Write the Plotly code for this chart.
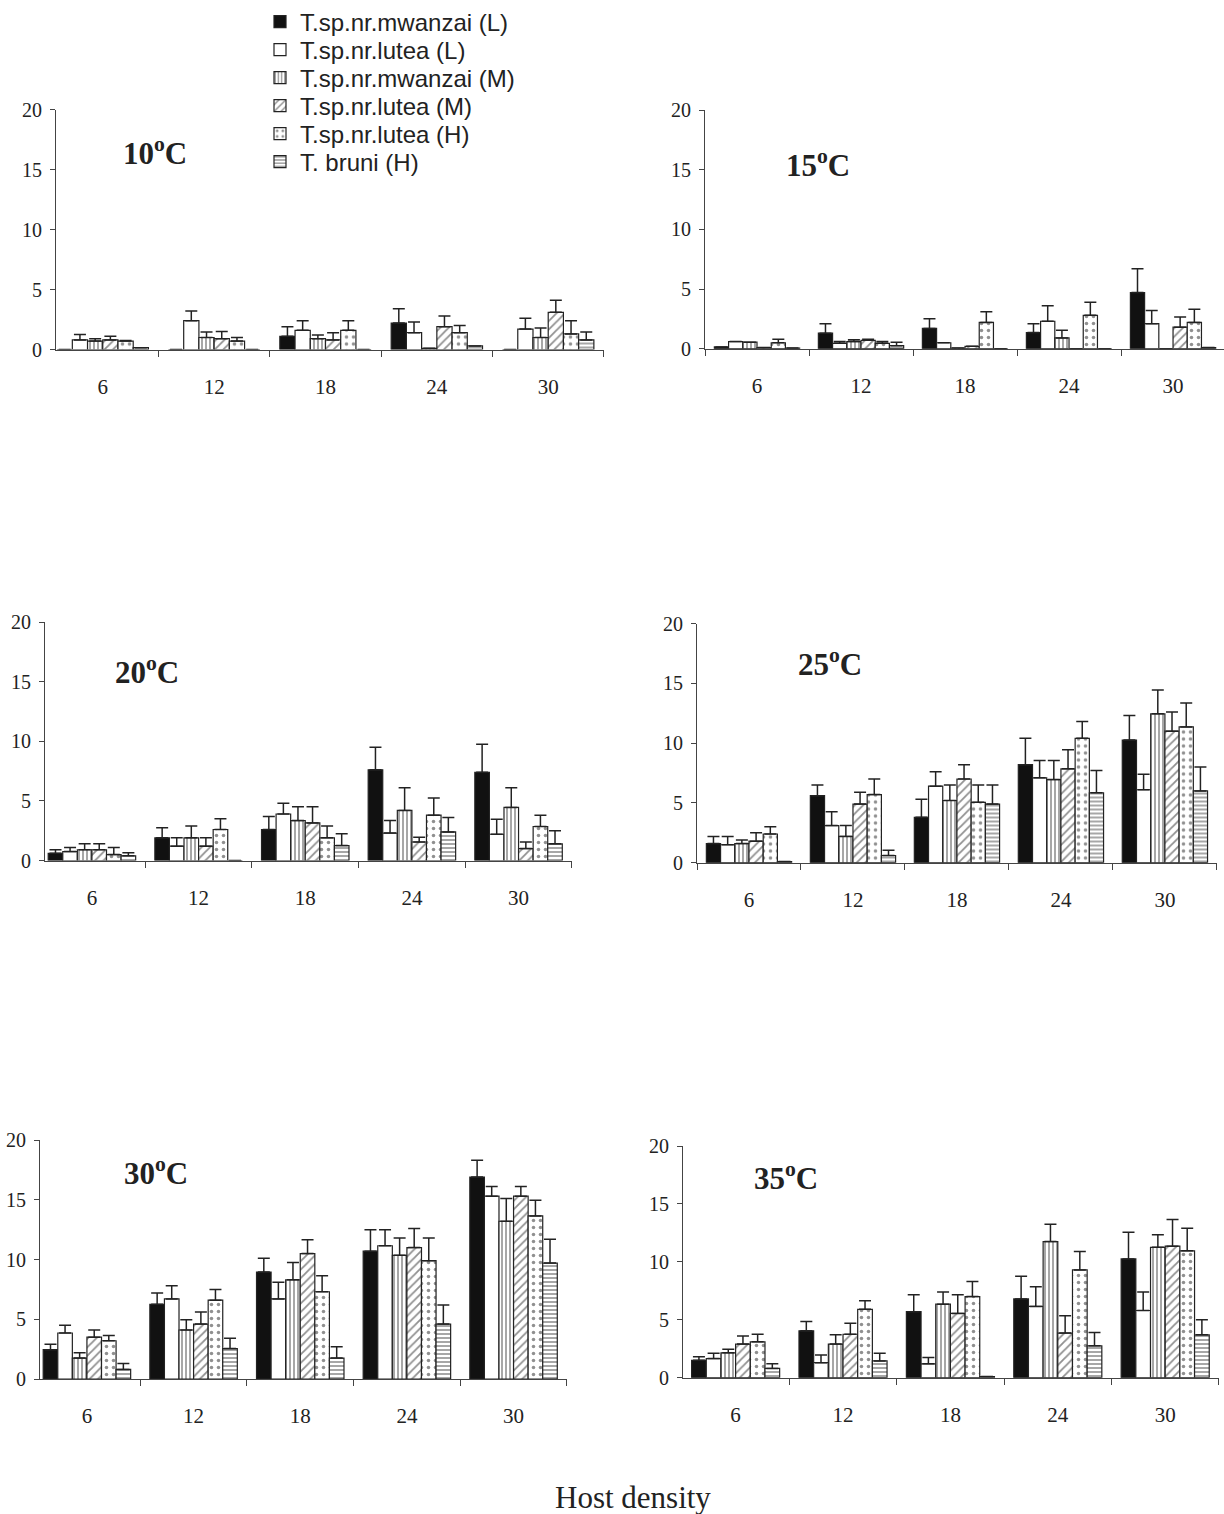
import plotly.graph_objects as go

W, H = 1224, 1514

densities = ["6", "12", "18", "24", "30"]
series_names = ["T.sp.nr.mwanzai (L)", "T.sp.nr.lutea (L)", "T.sp.nr.mwanzai (M)",
                "T.sp.nr.lutea (M)", "T.sp.nr.lutea (H)", "T. bruni (H)"]
temps = ["10", "15", "20", "25", "30", "35"]

# rows = series (same order as series_names), columns = densities
mean_10 = [[0, 0, 1.1, 2.2, 0],
           [0.8, 2.4, 1.6, 1.4, 1.7],
           [0.7, 1.0, 0.9, 0.1, 1.0],
           [0.8, 0.9, 0.8, 1.9, 3.1],
           [0.7, 0.7, 1.6, 1.4, 1.3],
           [0.15, 0.0, 0.0, 0.3, 0.8]]
err_10 = [[0, 0, 0.8, 1.2, 0],
          [0.45, 0.8, 0.8, 0.9, 0.9],
          [0.2, 0.45, 0.3, 0, 0.8],
          [0.3, 0.6, 0.6, 0.9, 1.0],
          [0.05, 0.3, 0.8, 0.6, 1.1],
          [0, 0, 0, 0, 0.65]]

mean_15 = [[0.15, 1.3, 1.7, 1.35, 4.7],
           [0.6, 0.45, 0.5, 2.3, 2.1],
           [0.55, 0.6, 0.05, 0.9, 0.0],
           [0.1, 0.7, 0.2, 0.0, 1.8],
           [0.5, 0.45, 2.2, 2.8, 2.2],
           [0.05, 0.25, 0.0, 0.0, 0.1]]
err_15 = [[0, 0.8, 0.8, 0.75, 2.0],
          [0, 0.15, 0, 1.3, 1.1],
          [0, 0.15, 0, 0.65, 0],
          [0, 0.1, 0, 0, 0.85],
          [0.3, 0.15, 0.9, 1.1, 1.1],
          [0, 0.3, 0, 0, 0]]

mean_20 = [[0.6, 1.9, 2.6, 7.6, 7.4],
           [0.75, 1.2, 3.9, 2.3, 2.2],
           [0.9, 1.9, 3.35, 4.2, 4.45],
           [0.9, 1.2, 3.15, 1.55, 1.0],
           [0.5, 2.6, 1.9, 3.8, 2.85],
           [0.4, 0.0, 1.25, 2.4, 1.4]]
err_20 = [[0.3, 0.85, 1.1, 1.9, 2.35],
          [0.35, 0.7, 0.9, 1.05, 1.25],
          [0.5, 1.0, 1.15, 1.9, 1.65],
          [0.5, 0.7, 1.35, 0.4, 0.55],
          [0.6, 0.9, 1.0, 1.45, 0.95],
          [0.25, 0, 1.0, 1.2, 1.1]]

mean_25 = [[1.6, 5.6, 3.8, 8.2, 10.25],
           [1.5, 3.1, 6.4, 7.1, 6.1],
           [1.6, 2.2, 5.2, 6.95, 12.45],
           [1.8, 4.9, 7.0, 7.85, 11.0],
           [2.4, 5.7, 5.05, 10.4, 11.35],
           [0.1, 0.6, 4.9, 5.85, 6.0]]
err_25 = [[0.6, 0.9, 1.5, 2.2, 2.05],
          [0.7, 1.15, 1.2, 1.45, 1.3],
          [0.3, 0.9, 1.3, 1.6, 2.0],
          [0.7, 1.0, 1.2, 1.6, 1.6],
          [0.6, 1.3, 1.45, 1.4, 2.0],
          [0, 0.45, 1.6, 1.85, 2.0]]

mean_30 = [[2.45, 6.25, 8.95, 10.7, 16.9],
           [3.85, 6.7, 6.7, 11.15, 15.3],
           [1.75, 4.1, 8.3, 10.35, 13.2],
           [3.5, 4.6, 10.5, 11.0, 15.3],
           [3.2, 6.6, 7.3, 9.9, 13.65],
           [0.8, 2.55, 1.75, 4.6, 9.7]]
err_30 = [[0.45, 0.95, 1.15, 1.8, 1.4],
          [0.65, 1.1, 1.4, 1.35, 0.8],
          [0.45, 0.85, 1.45, 1.45, 1.9],
          [0.6, 1.0, 1.15, 1.6, 0.8],
          [0.45, 0.9, 1.35, 1.9, 1.3],
          [0.5, 0.85, 0.95, 1.6, 2.0]]

mean_35 = [[1.5, 4.05, 5.7, 6.8, 10.25],
           [1.65, 1.3, 1.2, 6.15, 5.8],
           [2.15, 2.9, 6.35, 11.75, 11.25],
           [2.9, 3.75, 5.55, 3.85, 11.35],
           [3.1, 5.9, 7.0, 9.3, 10.95],
           [0.8, 1.45, 0.1, 2.75, 3.7]]
err_35 = [[0.3, 0.8, 1.45, 1.95, 2.3],
          [0.45, 0.65, 0.55, 1.7, 1.6],
          [0.3, 0.8, 1.05, 1.5, 1.1],
          [0.7, 0.95, 1.6, 1.5, 2.3],
          [0.65, 0.75, 1.3, 1.6, 1.95],
          [0.4, 0.65, 0, 1.15, 1.3]]

means = [mean_10, mean_15, mean_20, mean_25, mean_30, mean_35]
errs = [err_10, err_15, err_20, err_25, err_30, err_35]

# styling per series
fills = ["#111111", "white", "white", "white", "white", "white"]
patterns = [None,
            None,
            dict(shape="|", fgcolor="#222", bgcolor="white", size=4, solidity=0.4),
            dict(shape="/", fgcolor="#222", bgcolor="white", size=6, solidity=0.3),
            dict(shape=".", fgcolor="#222", bgcolor="white", size=7, solidity=0.2),
            dict(shape="-", fgcolor="#222", bgcolor="white", size=4, solidity=0.4)]


def ypaper(px):
    return 1 - px / H


# panel geometry in pixels: (x_left, x_right, y_zero, y_twenty, range_left, range_right)
geom = [(56, 604, 349.5, 109.5, -0.42, 4.501),
        (705, 1224, 348.7, 110, -0.5, 4.49),
        (45, 572, 860.5, 622, -0.44, 4.501),
        (697, 1217, 862.7, 623.5, -0.5, 4.501),
        (40, 567, 1379, 1140, -0.44, 4.501),
        (683, 1219, 1377.7, 1146, -0.49, 4.501)]
title_pos = [(155, 153), (818, 165), (147, 672), (830, 665), (156, 1173), (786, 1178)]

fig = go.Figure()
layout = {}
annotations = []
for p in range(6):
    ax = "" if p == 0 else str(p + 1)
    for s in range(6):
        marker = dict(color=fills[s], line=dict(color="#222", width=1.2))
        if patterns[s] is not None:
            marker["pattern"] = patterns[s]
        e = [v if v > 0 else None for v in errs[p][s]]
        fig.add_trace(go.Bar(
            x=densities, y=means[p][s], name=series_names[s],
            marker=marker, showlegend=(p == 0),
            legend="legend" if s == 0 else "legend" + str(s + 1),
            error_y=dict(type="data", array=e, symmetric=False,
                         arrayminus=[0] * 5, color="#222", thickness=1.5, width=6),
            xaxis="x" + ax, yaxis="y" + ax))
    xl, xr, y0, y20, r0, r1 = geom[p]
    layout["xaxis" + ax] = dict(
        domain=[xl / W, xr / W], anchor="y" + ax, type="category",
        categoryorder="array", categoryarray=densities, range=[r0, r1],
        showline=True, linecolor="#444", linewidth=1, tickson="boundaries",
        ticks="outside", ticklen=6, tickcolor="#444", showgrid=False,
        tickfont=dict(family="Liberation Serif", size=21, color="#222"),
        ticklabelstandoff=18, fixedrange=True, automargin=False)
    layout["yaxis" + ax] = dict(
        domain=[ypaper(y0), ypaper(y20)], anchor="x" + ax, range=[0, 20],
        tickvals=[0, 5, 10, 15, 20], ticks="outside", ticklen=5, tickcolor="#444",
        showline=True, linecolor="#444", linewidth=1, showgrid=False, zeroline=False,
        tickfont=dict(family="Liberation Serif", size=20, color="#222"),
        ticklabelstandoff=4, fixedrange=True, automargin=False)
    tx, ty = title_pos[p]
    annotations.append(dict(
        text="<b>" + temps[p] + "<sup>o</sup>C</b>", x=tx / W, y=ypaper(ty - 2),
        xref="paper", yref="paper", showarrow=False, xanchor="center", yanchor="middle",
        font=dict(family="Liberation Serif", size=31, color="#222")))

annotations.append(dict(text="Host density", x=633 / W, y=ypaper(1497), xref="paper",
                        yref="paper", showarrow=False, xanchor="center", yanchor="middle",
                        font=dict(family="Liberation Serif", size=31, color="#222")))

# one single-item legend per series, stacked like the reference key
for s in range(6):
    key = "legend" if s == 0 else "legend" + str(s + 1)
    layout[key] = dict(x=260 / W, y=ypaper(22 + 28 * s), xanchor="left", yanchor="middle",
                       font=dict(family="Liberation Sans", size=24, color="#222"),
                       bgcolor="rgba(0,0,0,0)", itemclick=False, itemdoubleclick=False)

fig.update_layout(
    width=W, height=H, margin=dict(l=0, r=0, t=0, b=0, autoexpand=False),
    paper_bgcolor="white", plot_bgcolor="white",
    barmode="group", bargap=0.18, bargroupgap=0,
    annotations=annotations,
    **layout)

fig.write_html("out.html")
